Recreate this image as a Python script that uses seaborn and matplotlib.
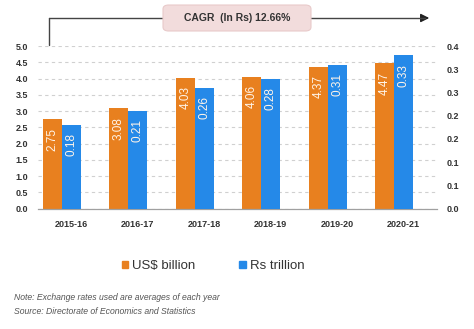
import matplotlib
matplotlib.use("Agg")
import matplotlib.pyplot as plt
from matplotlib.patches import FancyBboxPatch
from matplotlib.lines import Line2D
from matplotlib.ticker import FixedLocator, MultipleLocator
import seaborn as sns
import pandas as pd

# ---- data ----
years = ["2015-16", "2016-17", "2017-18", "2018-19", "2019-20", "2020-21"]
usd_billion = [2.75, 3.08, 4.03, 4.06, 4.37, 4.47]
rs_trillion = [0.18, 0.21, 0.26, 0.28, 0.31, 0.33]
series_names = ["US$ billion", "Rs trillion"]
left_ticks = [0.0, 0.5, 1.0, 1.5, 2.0, 2.5, 3.0, 3.5, 4.0, 4.5, 5.0]
right_ticks = [0.0, 0.05, 0.10, 0.15, 0.20, 0.25, 0.30, 0.35]
right_tick_labels = ["0.0", "0.1", "0.1", "0.2", "0.2", "0.3", "0.3", "0.4"]
cagr_text = "CAGR  (In Rs) 12.66%"
note_lines = ["Note: Exchange rates used are averages of each year",
              "Source: Directorate of Economics and Statistics"]

ORANGE = "#E8801F"
BLUE = "#2589E8"
TXT = "#333333"

sns.set_style("white")
plt.rcParams["font.family"] = ["Liberation Sans", "DejaVu Sans"]

fig = plt.figure(figsize=(4.74, 3.29), dpi=100)
ax = fig.add_axes([0.080, 0.366, 0.842, 0.494])
ax2 = ax.twinx()

hue_order = series_names + ["_pad"]
palette = {series_names[0]: ORANGE, series_names[1]: BLUE, "_pad": "white"}

df_us = pd.DataFrame({"year": years, "value": usd_billion, "series": series_names[0]})
df_rs = pd.DataFrame({"year": years, "value": rs_trillion, "series": series_names[1]})

sns.barplot(data=df_us, x="year", y="value", hue="series", hue_order=hue_order,
            order=years, palette=palette, width=0.85, saturation=1, ax=ax,
            legend=False, errorbar=None, dodge=True, gap=0, linewidth=0,
            edgecolor="none")
sns.barplot(data=df_rs, x="year", y="value", hue="series", hue_order=hue_order,
            order=years, palette=palette, width=0.85, saturation=1, ax=ax2,
            legend=False, errorbar=None, dodge=True, gap=0, linewidth=0,
            edgecolor="none")

for a, vals in ((ax, usd_billion), (ax2, rs_trillion)):
    patches = [p for p in a.patches if p.get_height() > 0]
    for p, v in zip(patches, vals):
        a.annotate(f"{v:.2f}", (p.get_x() + p.get_width() / 2, p.get_height()),
                   xytext=(0, -6), textcoords="offset points", rotation=90,
                   ha="center", va="top", color="#FFF4E8", fontsize=8.5)

ax.set_ylim(0, 5.0)
ax2.set_ylim(0, 0.35)
ax.set_xlim(-0.5, len(years) - 0.5)
ax2.set_xlim(-0.5, len(years) - 0.5)

ax.yaxis.set_major_locator(FixedLocator(left_ticks))
ax.set_yticklabels([f"{t:.1f}" for t in left_ticks])
ax2.yaxis.set_major_locator(FixedLocator(right_ticks))
ax2.set_yticklabels(right_tick_labels)

ax.grid(axis="y", color="#d0d0d0", linestyle=(0, (3, 3)), linewidth=0.8)
ax.set_axisbelow(True)
ax2.grid(False)

for a in (ax, ax2):
    for s in a.spines.values():
        s.set_visible(False)
    a.set_xlabel("")
    a.set_ylabel("")
ax.spines["bottom"].set_visible(True)
ax.spines["bottom"].set_color("#a0a0a0")
ax.spines["bottom"].set_linewidth(0.9)

ax.tick_params(axis="y", length=0, pad=7, labelsize=6.5, labelcolor=TXT)
ax2.tick_params(axis="y", length=0, pad=7, labelsize=6.5, labelcolor=TXT)
for lab in ax.get_yticklabels() + ax2.get_yticklabels():
    lab.set_fontweight("bold")

ax.tick_params(axis="x", length=0, pad=8, labelsize=6.5, labelcolor=TXT)
ax.xaxis.set_minor_locator(MultipleLocator(1, offset=0.5))
ax.tick_params(axis="x", which="minor", length=3, color="#a0a0a0", width=0.8)
for lab in ax.get_xticklabels():
    lab.set_fontweight("bold")
ax2.tick_params(axis="x", length=0)

# CAGR arrow and box
fig.add_artist(Line2D([49 / 474, 49 / 474], [1 - 45 / 329, 1 - 18 / 329],
                      color="#444444", lw=1.0, transform=fig.transFigure, zorder=2))
fig.add_artist(Line2D([49 / 474, 425 / 474], [1 - 18 / 329, 1 - 18 / 329],
                      color="#444444", lw=1.0, transform=fig.transFigure, zorder=2))
ax.annotate("", xy=(432 / 474, 1 - 18 / 329), xytext=(420 / 474, 1 - 18 / 329),
            xycoords="figure fraction", textcoords="figure fraction",
            arrowprops=dict(arrowstyle="-|>,head_length=0.5,head_width=0.25",
                            color="#222222", lw=1.0), annotation_clip=False)
box = FancyBboxPatch((163 / 474, 1 - 31 / 329), 148 / 474, 26 / 329,
                     boxstyle="round,pad=0,rounding_size=0.012",
                     transform=fig.transFigure, facecolor="#F2DCDC",
                     edgecolor="#E8CACA", lw=0.8, zorder=5)
fig.add_artist(box)
fig.text(237 / 474, 1 - 18 / 329, cagr_text, ha="center", va="center",
         fontsize=7.5, fontweight="bold", color=TXT, zorder=6)

# legend
handles = [plt.Rectangle((0, 0), 1, 1, color=ORANGE),
           plt.Rectangle((0, 0), 1, 1, color=BLUE)]
fig.legend(handles, series_names, loc="center", bbox_to_anchor=(213 / 474, 1 - 266 / 329),
           ncol=2, frameon=False, fontsize=9.5, handlelength=0.5, handleheight=0.5,
           handletextpad=0.3, columnspacing=3.3, labelcolor=TXT)

fig.text(14 / 474, 1 - 297 / 329, note_lines[0], ha="left", va="center",
         fontsize=6.2, style="italic", color="#555555")
fig.text(14 / 474, 1 - 311 / 329, note_lines[1], ha="left", va="center",
         fontsize=6.2, style="italic", color="#555555")

fig.savefig("out.png", dpi=100)
